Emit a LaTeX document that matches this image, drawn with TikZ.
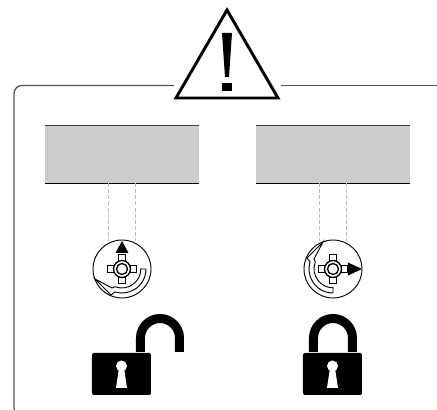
\documentclass[tikz,border=0pt]{standalone}
\usepackage{tikz}
\usetikzlibrary{calc,positioning}
\definecolor{vpanel}{HTML}{CCCCCC}
\definecolor{vframe}{HTML}{555555}
\definecolor{vdash}{HTML}{BBBBBB}
\tikzset{
  framel/.style={draw=vframe,line width=1pt},
  panel/.style={fill=vpanel,draw=none,minimum width=115.5pt,minimum height=43.5pt,inner sep=0pt,outer sep=0pt},
  guide/.style={draw=vdash,line width=0.6pt,dash pattern=on 3pt off 1.6pt},
  dialln/.style={draw=black,line width=0.7pt,fill=white},
  warn/.style={draw=black,line width=2.2pt,line join=miter,fill=white},
}
\begin{document}
\begin{tikzpicture}[x=0.75pt,y=-0.75pt]
  \clip (0,0) rectangle (437,410);
  \fill[white] (0,0) rectangle (437,410);
  % frame, open behind the sign
  \draw[framel,rounded corners=6pt] (174,85.5) -- (14,85.5) -- (14,416) -- (60,416);
  \draw[framel] (281,85.5) -- (437,85.5);
  % warning sign
  \coordinate (apex) at (227,10);
  \draw[warn] (apex) -- (278,98) -- (176,98) -- cycle;
  \fill (222,33) -- (232,33) -- (229,77) -- (225,77) -- cycle;
  \fill (222,83) rectangle (232,91);
  % panels, guides, dials
  \foreach \px/\rot [count=\ix] in {122/0,333/-90} {
    \node[panel] (panel\ix) at (\px,154) {};
    \draw[black!75,line width=0.7pt] (panel\ix.north west) -- (panel\ix.north east);
    \draw[black,line width=0.7pt] (panel\ix.south west) -- (panel\ix.south east);
    \coordinate (dial\ix) at (\px,269);
    \draw[guide] (\px-13.5,183) -- (\px-13.5,241);
    \draw[guide] (\px+13.5,183) -- (\px+13.5,241);
    \draw[dialln] (dial\ix) circle[radius=29];
    \begin{scope}[shift={(\px,269)},rotate=\rot]
      % turning arrow
      \draw[dialln,line join=miter] (24,0) arc[start angle=0,end angle=107,radius=24]
        -- (-11,26) -- (-27,10) -- (-10,19) -- (-7,17.7)
        arc[start angle=111,end angle=0,radius=19] -- cycle;
    \end{scope}
    \begin{scope}[shift={(\px,269)}]
      \foreach \a in {0,90,180,270} {
        \draw[dialln,rotate=\a] (8,-3.2) rectangle (14.4,3.2);
      }
      \draw[dialln,line width=1pt] (0,0) circle[radius=8.5];
      \draw[dialln,line width=1pt] (0,0) circle[radius=5.5];
    \end{scope}
  }
  % pointers
  \fill (122,241) -- (128.5,253) -- (115.5,253) -- cycle;
  \fill (362,269) -- (348,262.5) -- (348,275.5) -- cycle;
  % padlocks
  \foreach \bx/\sx [count=\ix] in {121.5/160,332.5/333} {
    \draw[line width=6.75pt] (\sx-19.5,352) -- (\sx-19.5,338) arc[start angle=180,end angle=360,radius=19.5] -- (\sx+19.5,352);
    \fill[rounded corners=1.5pt] (\bx-29.5,353) rectangle (\bx+29.5,395);
    \fill[white] (\bx,366) circle[radius=5.5];
    \fill[white] (\bx-2.5,368) -- (\bx+2.5,368) -- (\bx+5.5,388) -- (\bx-5.5,388) -- cycle;
  }
\end{tikzpicture}
\end{document}
